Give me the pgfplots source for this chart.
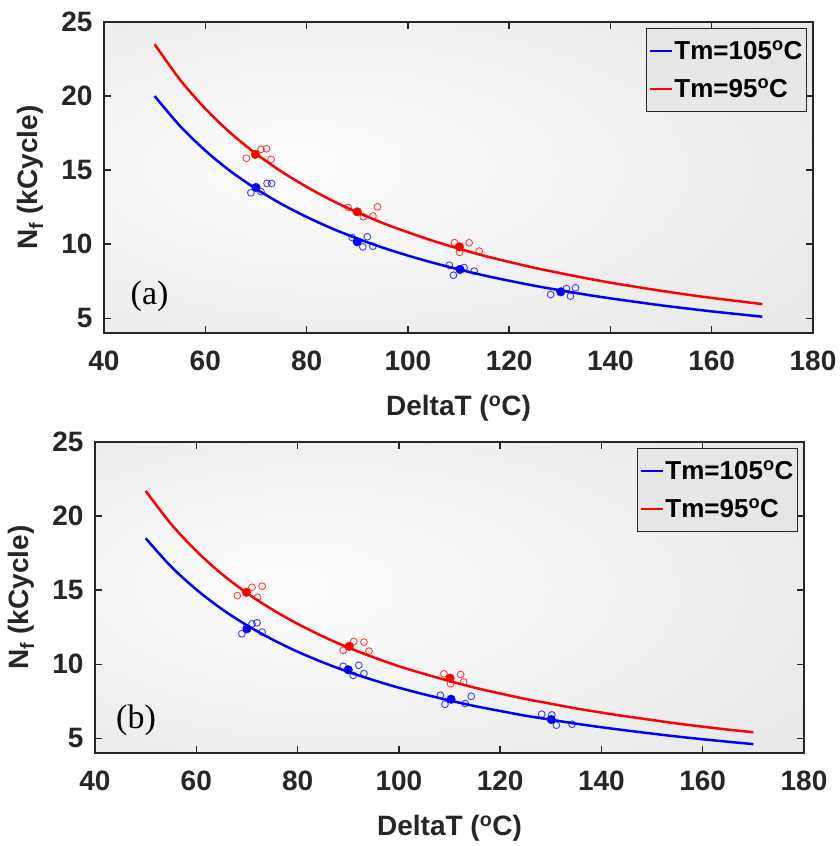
\documentclass[border=0pt]{standalone}
\usepackage{fontspec}
\setmainfont{Liberation Sans}
\newfontfamily\timesfont{Liberation Serif}
\newfontfamily\tickbf{Liberation Sans}[UprightFont=*-Bold, BoldFont=*-Bold]
\newcommand{\tl}[1]{\mbox{\fontsize{28}{30}\selectfont\tickbf #1}}
\usepackage{pgfplots}
\pgfplotsset{compat=1.18}
\definecolor{axcol}{RGB}{38,38,38}
\definecolor{bgin}{RGB}{252,252,252}
\definecolor{bgout}{RGB}{226,226,226}
\definecolor{bgcorner}{RGB}{218,218,218}
\definecolor{legfill}{RGB}{230,230,230}
\pgfdeclareradialshading{bgshade}{\pgfpoint{-12bp}{2bp}}{color(0bp)=(bgin); color(50bp)=(bgout); color(71bp)=(bgcorner)}
\pgfplotsset{
  mystyle/.style={
    width=709pt, height=311pt, scale only axis,
    xmin=40, xmax=180, ymin=4, ymax=25,
    xtick={40,60,80,100,120,140,160,180}, ytick={5,10,15,20,25},
    xticklabels={\tl{40},\tl{60},\tl{80},\tl{100},\tl{120},\tl{140},\tl{160},\tl{180}},
    yticklabels={\tl{5},\tl{10},\tl{15},\tl{20},\tl{25}},
    tick align=inside,
    major tick length=7pt,
    axis line style={draw=axcol, line width=1.3pt},
    every tick/.style={draw=axcol, line width=1.3pt},
    tick label style={font=\fontsize{28}{30}\selectfont\tickbf, text=axcol},
    xticklabel style={yshift=-14pt},
    yticklabel style={xshift=-8pt},
    xlabel={DeltaT (\textsuperscript{o}C)},
    ylabel={N\textsubscript{f} (kCycle)},
    every axis x label/.style={at={(axis description cs:0.5,0)}, anchor=north, yshift=-62pt, inner sep=0pt, font=\fontsize{28}{30}\selectfont\bfseries, text=axcol},
    every axis y label/.style={at={(axis description cs:-0.104,0.5)}, anchor=center, rotate=90, inner sep=0pt, font=\fontsize{28}{30}\selectfont\bfseries, text=axcol},
    axis background/.style={shade, shading=bgshade},
    legend style={at={(1,1)}, anchor=north east, xshift=-6pt, yshift=-6pt,
      draw=axcol, line width=1.2pt, fill=legfill,
      font=\fontsize{26}{28}\selectfont\bfseries, text=black,
      inner xsep=2pt, inner ysep=10pt, row sep=14pt},
    legend cell align=left,
    legend image code/.code={\draw[#1, line width=1.6pt] (0pt,0pt) -- (22pt,0pt);},
    curve/.style={line width=2.5pt, no marks, smooth},
    openm/.style={only marks, mark=o, mark size=3.4pt, line width=0.9pt, opacity=0.75, forget plot},
    fillm/.style={only marks, mark=*, mark size=4.3pt, forget plot},
  }
}
\begin{document}
\begin{tikzpicture}
\useasboundingbox (0,0) rectangle (839pt,-846pt);
% ---------------- (a) ----------------
\begin{axis}[mystyle, at={(104pt,-333pt)}, anchor=south west]
\addplot[blue, curve] coordinates {
(50,20.00)(55,17.98)(60,16.32)(65,14.92)(70,13.74)(75,12.72)(80,11.84)(85,11.06)(90,10.38)(95,9.77)(100,9.23)(105,8.74)(110,8.30)(115,7.89)(120,7.53)(125,7.19)(130,6.89)(135,6.60)(140,6.34)(145,6.10)(150,5.87)(155,5.66)(160,5.46)(165,5.28)(170,5.10)};
\addlegendentry{Tm=105\textsuperscript{o}C}
\addplot[red, curve] coordinates {
(50,23.50)(55,21.11)(60,19.15)(65,17.50)(70,16.11)(75,14.91)(80,13.87)(85,12.95)(90,12.15)(95,11.43)(100,10.80)(105,10.22)(110,9.70)(115,9.22)(120,8.80)(125,8.40)(130,8.05)(135,7.71)(140,7.40)(145,7.12)(150,6.85)(155,6.60)(160,6.37)(165,6.16)(170,5.95)};
\addlegendentry{Tm=95\textsuperscript{o}C}
\addplot[blue, openm] coordinates {
(69.0,13.47)(71.0,13.54)(72.2,14.1)(73.1,14.1)(89.0,10.45)(91.1,9.82)(92.0,10.5)(93.1,9.86)(108.2,8.58)(109.0,7.9)(111.1,8.42)(113.1,8.18)(128.2,6.6)(131.3,7.0)(132.1,6.49)(133.1,7.05)};
\addplot[blue, fillm] coordinates {(70.0,13.83)(90.0,10.16)(110.3,8.29)(130.2,6.78)};
\addplot[red, openm] coordinates {
(68.1,15.8)(71.0,16.4)(72.1,16.44)(73.0,15.72)(88.2,12.48)(91.2,11.85)(93.1,11.9)(94.0,12.52)(109.2,10.1)(110.2,9.45)(112.1,10.09)(114.1,9.53)};
\addplot[red, fillm] coordinates {(69.9,16.06)(90.0,12.18)(110.2,9.82)};
\node[font=\timesfont\fontsize{34}{36}\selectfont, text=black] at (axis cs:49,6.45) {(a)};
\end{axis}
% ---------------- (b) ----------------
\begin{axis}[mystyle, at={(95pt,-753pt)}, anchor=south west]
\addplot[blue, curve] coordinates {
(50,18.50)(55,16.60)(60,15.04)(65,13.73)(70,12.62)(75,11.67)(80,10.84)(85,10.12)(90,9.48)(95,8.92)(100,8.41)(105,7.96)(110,7.55)(115,7.17)(120,6.84)(125,6.52)(130,6.25)(135,5.98)(140,5.74)(145,5.52)(150,5.31)(155,5.11)(160,4.93)(165,4.76)(170,4.60)};
\addlegendentry{Tm=105\textsuperscript{o}C}
\addplot[red, curve] coordinates {
(50,21.70)(55,19.47)(60,17.64)(65,16.10)(70,14.80)(75,13.69)(80,12.72)(85,11.87)(90,11.12)(95,10.46)(100,9.86)(105,9.34)(110,8.86)(115,8.41)(120,8.02)(125,7.65)(130,7.33)(135,7.01)(140,6.73)(145,6.47)(150,6.23)(155,5.99)(160,5.78)(165,5.58)(170,5.40)};
\addlegendentry{Tm=95\textsuperscript{o}C}
\addplot[blue, openm] coordinates {
(69.0,12.05)(71.0,12.72)(72.0,12.79)(73.0,12.16)(89.0,9.85)(91.0,9.24)(92.1,9.92)(93.1,9.36)(108.2,7.9)(109.1,7.29)(113.1,7.34)(114.3,7.83)(128.2,6.62)(130.2,6.57)(131.1,5.88)(134.2,5.94)};
\addplot[blue, fillm] coordinates {(70.0,12.39)(90.0,9.62)(110.3,7.63)(130.1,6.26)};
\addplot[red, openm] coordinates {
(68.1,14.63)(71.0,15.19)(73.0,15.26)(72.1,14.52)(89.0,10.93)(91.1,11.53)(93.1,11.49)(94.1,10.88)(108.9,9.35)(110.2,8.68)(112.2,9.3)(112.8,8.8)};
\addplot[red, fillm] coordinates {(69.9,14.85)(90.2,11.2)(110.1,9.05)};
\node[font=\timesfont\fontsize{34}{36}\selectfont, text=black] at (axis cs:48.1,6.2) {(b)};
\end{axis}
\end{tikzpicture}
\end{document}
